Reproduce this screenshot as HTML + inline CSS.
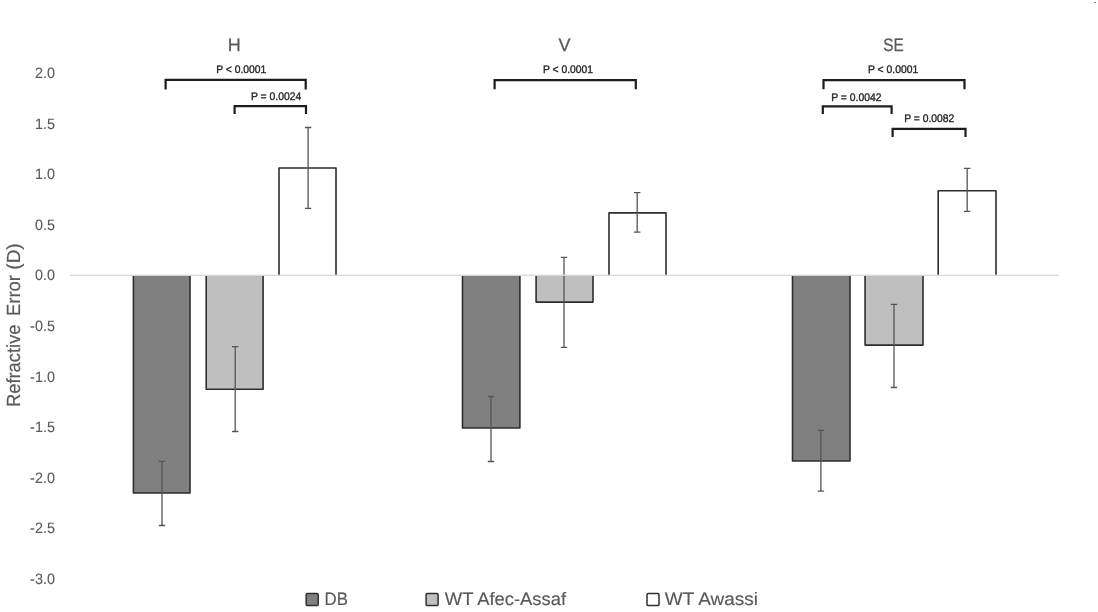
<!DOCTYPE html>
<html><head><meta charset="utf-8"><title>Refractive Error chart</title>
<style>
html,body{margin:0;padding:0;background:#fff;}
body{width:1098px;height:612px;overflow:hidden;}
svg{display:block;}
text{font-family:"Liberation Sans", Arial, sans-serif;text-rendering:geometricPrecision;}
.tick{font-size:15px;fill:#595959;stroke:#595959;stroke-width:0.1px;}
.p{font-size:11px;fill:#262626;stroke:#262626;stroke-width:0.35px;}
.cat{font-size:18px;fill:#595959;stroke:#595959;stroke-width:0.25px;}
.ytitle{font-size:19px;fill:#595959;stroke:#595959;stroke-width:0.2px;}
.leg{font-size:18px;fill:#595959;stroke:#595959;stroke-width:0.15px;}
</style></head>
<body>
<svg width="1098" height="612" viewBox="0 0 1098 612">
<rect width="1098" height="612" fill="#fff"/>
<text x="54.9" y="77.90" text-anchor="end" class="tick" textLength="20.0" lengthAdjust="spacingAndGlyphs">2.0</text>
<text x="54.9" y="128.50" text-anchor="end" class="tick" textLength="20.0" lengthAdjust="spacingAndGlyphs">1.5</text>
<text x="54.9" y="179.10" text-anchor="end" class="tick" textLength="20.0" lengthAdjust="spacingAndGlyphs">1.0</text>
<text x="54.9" y="229.70" text-anchor="end" class="tick" textLength="20.0" lengthAdjust="spacingAndGlyphs">0.5</text>
<text x="54.9" y="280.30" text-anchor="end" class="tick" textLength="20.0" lengthAdjust="spacingAndGlyphs">0.0</text>
<text x="54.9" y="330.90" text-anchor="end" class="tick" textLength="24.8" lengthAdjust="spacingAndGlyphs">-0.5</text>
<text x="54.9" y="381.50" text-anchor="end" class="tick" textLength="24.8" lengthAdjust="spacingAndGlyphs">-1.0</text>
<text x="54.9" y="432.10" text-anchor="end" class="tick" textLength="24.8" lengthAdjust="spacingAndGlyphs">-1.5</text>
<text x="54.9" y="482.70" text-anchor="end" class="tick" textLength="24.8" lengthAdjust="spacingAndGlyphs">-2.0</text>
<text x="54.9" y="533.30" text-anchor="end" class="tick" textLength="24.8" lengthAdjust="spacingAndGlyphs">-2.5</text>
<text x="54.9" y="583.90" text-anchor="end" class="tick" textLength="24.8" lengthAdjust="spacingAndGlyphs">-3.0</text>
<rect x="133.40" y="275.30" width="56.60" height="217.70" fill="#808080"/>
<path d="M133.40 275.30V493.00H190.00V275.30" fill="none" stroke="#2e2e2e" stroke-width="1.6" stroke-linejoin="round"/>
<rect x="206.20" y="275.30" width="56.90" height="113.95" fill="#bfbfbf"/>
<path d="M206.20 275.30V389.25H263.10V275.30" fill="none" stroke="#2e2e2e" stroke-width="1.6" stroke-linejoin="round"/>
<rect x="279.00" y="168.00" width="57.00" height="107.30" fill="#ffffff"/>
<path d="M279.00 275.30V168.00H336.00V275.30" fill="none" stroke="#2e2e2e" stroke-width="1.6" stroke-linejoin="round"/>
<rect x="462.50" y="275.30" width="57.40" height="152.70" fill="#808080"/>
<path d="M462.50 275.30V428.00H519.90V275.30" fill="none" stroke="#2e2e2e" stroke-width="1.6" stroke-linejoin="round"/>
<rect x="536.10" y="275.30" width="56.90" height="26.80" fill="#bfbfbf"/>
<path d="M536.10 275.30V302.10H593.00V275.30" fill="none" stroke="#2e2e2e" stroke-width="1.6" stroke-linejoin="round"/>
<rect x="609.00" y="212.90" width="57.00" height="62.40" fill="#ffffff"/>
<path d="M609.00 275.30V212.90H666.00V275.30" fill="none" stroke="#2e2e2e" stroke-width="1.6" stroke-linejoin="round"/>
<rect x="792.50" y="275.30" width="57.50" height="185.70" fill="#808080"/>
<path d="M792.50 275.30V461.00H850.00V275.30" fill="none" stroke="#2e2e2e" stroke-width="1.6" stroke-linejoin="round"/>
<rect x="865.05" y="275.30" width="57.95" height="69.80" fill="#bfbfbf"/>
<path d="M865.05 275.30V345.10H923.00V275.30" fill="none" stroke="#2e2e2e" stroke-width="1.6" stroke-linejoin="round"/>
<rect x="938.20" y="190.75" width="57.80" height="84.55" fill="#ffffff"/>
<path d="M938.20 275.30V190.75H996.00V275.30" fill="none" stroke="#2e2e2e" stroke-width="1.6" stroke-linejoin="round"/>
<path d="M162.00 461.40V525.50M158.80 461.40H165.20M158.80 525.50H165.20" stroke="#555555" stroke-width="1.3" fill="none"/>
<path d="M235.20 346.70V431.50M232.00 346.70H238.40M232.00 431.50H238.40" stroke="#555555" stroke-width="1.3" fill="none"/>
<path d="M308.10 127.50V208.40M304.90 127.50H311.30M304.90 208.40H311.30" stroke="#555555" stroke-width="1.3" fill="none"/>
<path d="M491.00 396.50V461.50M487.80 396.50H494.20M487.80 461.50H494.20" stroke="#555555" stroke-width="1.3" fill="none"/>
<path d="M564.00 257.40V347.40M560.80 257.40H567.20M560.80 347.40H567.20" stroke="#555555" stroke-width="1.3" fill="none"/>
<path d="M637.20 192.70V232.20M634.00 192.70H640.40M634.00 232.20H640.40" stroke="#555555" stroke-width="1.3" fill="none"/>
<path d="M820.90 430.40V491.20M817.70 430.40H824.10M817.70 491.20H824.10" stroke="#555555" stroke-width="1.3" fill="none"/>
<path d="M894.00 304.40V387.50M890.80 304.40H897.20M890.80 387.50H897.20" stroke="#555555" stroke-width="1.3" fill="none"/>
<path d="M967.20 168.30V211.30M964.00 168.30H970.40M964.00 211.30H970.40" stroke="#555555" stroke-width="1.3" fill="none"/>
<rect x="70" y="274.65" width="989" height="1.3" fill="#d9d9d9"/>
<path d="M165.60 89.40V79.90H305.70V89.40" stroke="#1c1c1c" stroke-width="2.2" fill="none"/>
<path d="M234.60 113.90V106.10H306.00V113.90" stroke="#1c1c1c" stroke-width="2.2" fill="none"/>
<path d="M494.60 89.30V80.20H635.80V89.30" stroke="#1c1c1c" stroke-width="2.2" fill="none"/>
<path d="M823.50 89.30V80.20H964.50V89.30" stroke="#1c1c1c" stroke-width="2.2" fill="none"/>
<path d="M822.80 113.90V106.40H891.60V113.90" stroke="#1c1c1c" stroke-width="2.2" fill="none"/>
<path d="M892.60 136.90V128.90H965.50V136.90" stroke="#1c1c1c" stroke-width="2.2" fill="none"/>
<text x="216.16" y="73.00" class="p" textLength="50.15" lengthAdjust="spacingAndGlyphs">P &lt; 0.0001</text>
<text x="250.96" y="100.10" class="p" textLength="50.36" lengthAdjust="spacingAndGlyphs">P = 0.0024</text>
<text x="542.96" y="73.30" class="p" textLength="50.05" lengthAdjust="spacingAndGlyphs">P &lt; 0.0001</text>
<text x="867.96" y="73.30" class="p" textLength="50.25" lengthAdjust="spacingAndGlyphs">P &lt; 0.0001</text>
<text x="831.26" y="100.80" class="p" textLength="50.15" lengthAdjust="spacingAndGlyphs">P = 0.0042</text>
<text x="904.16" y="121.90" class="p" textLength="50.15" lengthAdjust="spacingAndGlyphs">P = 0.0082</text>
<text x="234.2" y="50.8" text-anchor="middle" class="cat">H</text>
<text x="564.5" y="50.8" text-anchor="middle" class="cat">V</text>
<text x="883.3" y="50.9" class="cat" textLength="20.5" lengthAdjust="spacingAndGlyphs">SE</text>
<text transform="translate(20,407) rotate(-90)" class="ytitle" textLength="82.5" lengthAdjust="spacingAndGlyphs">Refractive</text>
<text transform="translate(20,316) rotate(-90)" class="ytitle" textLength="40.9" lengthAdjust="spacingAndGlyphs">Error</text>
<text transform="translate(20,269.7) rotate(-90)" class="ytitle">(D)</text>
<rect x="306.20" y="593.6" width="12" height="12" rx="1.2" fill="#808080" stroke="#2e2e2e" stroke-width="1.5"/>
<text x="324.60" y="604.9" class="leg" textLength="23.40" lengthAdjust="spacingAndGlyphs">DB</text>
<rect x="426.10" y="593.6" width="12" height="12" rx="1.2" fill="#bfbfbf" stroke="#2e2e2e" stroke-width="1.5"/>
<text x="444.80" y="604.9" class="leg" textLength="121.20" lengthAdjust="spacingAndGlyphs">WT Afec-Assaf</text>
<rect x="647.00" y="593.6" width="12" height="12" rx="1.2" fill="#ffffff" stroke="#2e2e2e" stroke-width="1.5"/>
<text x="664.80" y="604.9" class="leg" textLength="93.20" lengthAdjust="spacingAndGlyphs">WT Awassi</text>
<rect x="1094" y="2" width="2" height="1" fill="#888"/>
</svg>
</body></html>
